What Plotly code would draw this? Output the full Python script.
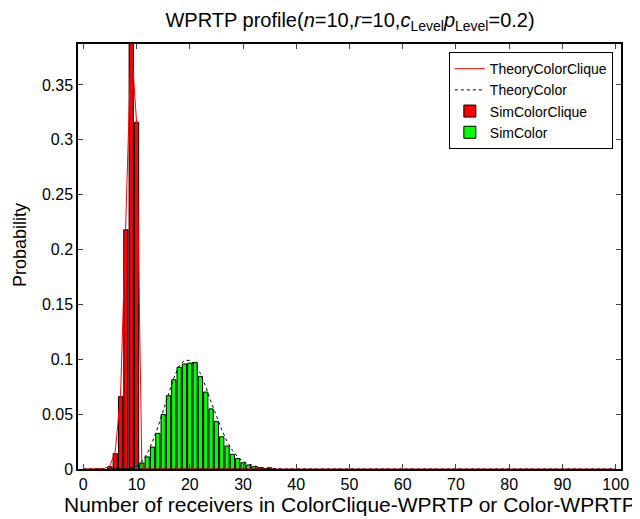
import plotly.graph_objects as go

# ---- data ----
sim_clique_x = [5, 6, 7, 8, 9, 10, 11]
sim_clique_y = [0.002, 0.014, 0.066, 0.218, 0.39, 0.316, 0.001]

sim_color_x = [9, 10, 11, 12, 13, 14, 15, 16, 17, 18, 19, 20, 21, 22, 23, 24, 25,
               26, 27, 28, 29, 30, 31, 32, 33, 34, 35]
sim_color_y = [0.001, 0.002, 0.0055, 0.011, 0.020, 0.0325, 0.0497, 0.0668, 0.0813,
               0.0927, 0.0957, 0.0965, 0.0971, 0.0844, 0.0701, 0.0548, 0.0434,
               0.0294, 0.0209, 0.0134, 0.0095, 0.0057, 0.0036, 0.0021, 0.0012,
               0.0005, 0.0011]

theory_clique_x = [0, 1, 2, 3, 4, 5, 6, 7, 8, 9, 10, 11, 12, 100]
theory_clique_y = [0, 0, 0, 0, 0.0005, 0.003, 0.016, 0.068, 0.22, 0.39, 0.316, 0.0, 0, 0]

theory_color_x = [0, 9, 10, 11, 12, 13, 14, 15, 16, 17, 18, 19, 20, 21, 22, 23, 24,
                  25, 26, 27, 28, 29, 30, 31, 32, 33, 34, 35, 36, 37, 38, 100]
theory_color_y = [0, 0, 0.002, 0.007, 0.014, 0.025, 0.038, 0.053, 0.069, 0.083, 0.094,
                  0.099, 0.099, 0.095, 0.087, 0.075, 0.061, 0.048, 0.036, 0.025,
                  0.017, 0.011, 0.007, 0.0045, 0.0028, 0.0016, 0.001, 0.0005,
                  0.0003, 0.0001, 0, 0]

x_ticks = [0, 10, 20, 30, 40, 50, 60, 70, 80, 90, 100]
y_ticks = [0, 0.05, 0.1, 0.15, 0.2, 0.25, 0.3, 0.35]
y_tick_text = ["0", "0.05", "0.1", "0.15", "0.2", "0.25", "0.3", "0.35"]

FONT = "Liberation Sans, Arial, Helvetica, sans-serif"

fig = go.Figure()
fig.add_trace(go.Bar(x=sim_clique_x, y=sim_clique_y, name="SimColorClique",
                     marker=dict(color="#ff0000", line=dict(color="black", width=1)),
                     width=0.8, legendrank=3))
fig.add_trace(go.Bar(x=sim_color_x, y=sim_color_y, name="SimColor",
                     marker=dict(color="#00ff00", line=dict(color="black", width=1)),
                     width=0.8, legendrank=4))
fig.add_trace(go.Scatter(x=theory_clique_x, y=theory_clique_y, mode="lines",
                         name="TheoryColorClique",
                         line=dict(color="#ff0000", width=1), legendrank=1))
fig.add_trace(go.Scatter(x=theory_color_x, y=theory_color_y, mode="lines",
                         name="TheoryColor",
                         line=dict(color="black", width=1, dash="dot"), legendrank=2))

fig.update_layout(
    width=632, height=511,
    margin=dict(l=70, r=19, t=36, b=50),
    paper_bgcolor="white", plot_bgcolor="white",
    barmode="overlay",
    font=dict(family=FONT, size=16, color="black"),
    showlegend=True,
    legend=dict(x=0.985, y=0.981, xanchor="right", yanchor="top",
                bgcolor="white", bordercolor="black", borderwidth=1,
                font=dict(size=14), tracegroupgap=0, itemwidth=30),
    title=dict(text="WPRTP profile(<i>n</i>=10,<i>r</i>=10,<i>c</i><sub>Level</sub><i>p</i><sub>Level</sub>=0.2)",
               x=0.501 * 543 / 632 + 70 / 632, xanchor="center",
               y=1 - 12 / 511, yanchor="middle",
               font=dict(size=20)),
)
fig.update_xaxes(range=[-1, 101], tickvals=x_ticks, ticks="inside", ticklen=5,
                 showline=True, linecolor="black", linewidth=1.5, mirror="ticks",
                 showgrid=False, zeroline=False, tickfont=dict(size=16))
fig.update_yaxes(range=[0, 0.3873], tickvals=y_ticks, ticktext=y_tick_text,
                 ticks="inside", ticklen=5,
                 showline=True, linecolor="black", linewidth=1.5, mirror="ticks",
                 showgrid=False, zeroline=False, tickfont=dict(size=16))

fig.add_annotation(text="Number of receivers in ColorClique-WPRTP or Color-WPRTP",
                   xref="paper", yref="paper", x=0.501, y=-0.0847, xanchor="center",
                   yanchor="middle", showarrow=False, font=dict(size=21))
fig.add_annotation(text="Probability", xref="paper", yref="paper", x=-0.107, y=0.527,
                   textangle=-90, xanchor="center", yanchor="middle",
                   showarrow=False, font=dict(size=18))

fig.write_html("out.html")
